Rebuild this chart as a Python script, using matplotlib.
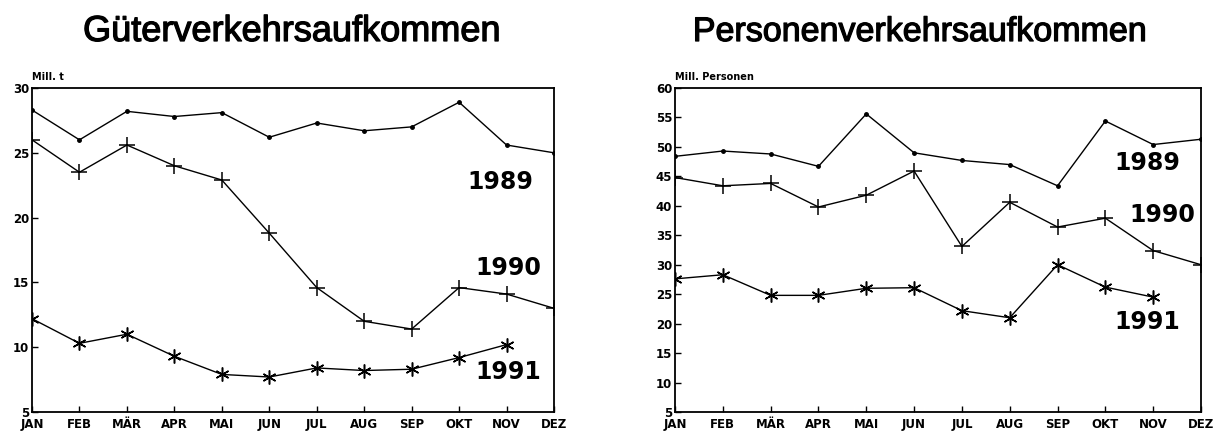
import matplotlib
matplotlib.use("Agg")
import matplotlib.pyplot as plt
import matplotlib.patheffects as pe

months = ["JAN", "FEB", "MÄR", "APR", "MAI", "JUN", "JUL", "AUG", "SEP", "OKT", "NOV", "DEZ"]

gueter_1989 = [28.3, 26.0, 28.2, 27.8, 28.1, 26.2, 27.3, 26.7, 27.0, 28.9, 25.6, 25.0]
gueter_1990 = [26.0, 23.5, 25.6, 24.0, 22.9, 18.8, 14.6, 12.0, 11.4, 14.6, 14.1, 13.0]
gueter_1991 = [12.2, 10.3, 11.0, 9.3, 7.9, 7.7, 8.4, 8.2, 8.3, 9.2, 10.2]

personen_1989 = [48.4, 49.3, 48.8, 46.7, 55.6, 49.0, 47.7, 47.0, 43.4, 54.4, 50.4, 51.3]
personen_1990 = [44.8, 43.4, 43.8, 39.8, 41.8, 45.9, 33.1, 40.6, 36.4, 37.9, 32.4, 30.0]
personen_1991 = [27.6, 28.3, 24.8, 24.8, 26.0, 26.1, 22.2, 21.0, 30.0, 26.2, 24.5]

gueter_yticks = [5, 10, 15, 20, 25, 30]
personen_yticks = [5, 10, 15, 20, 25, 30, 35, 40, 45, 50, 55, 60]

plt.rcParams['font.family'] = ['Liberation Sans', 'DejaVu Sans']

W, H = 1228, 438
fig = plt.figure(figsize=(W / 100, H / 100), dpi=100)

def px_axes(x0, x1, y0, y1):
    return fig.add_axes([x0 / W, 1 - y1 / H, (x1 - x0) / W, (y1 - y0) / H])

ax1 = px_axes(32, 554, 88, 412)
ax2 = px_axes(675, 1201, 88, 412)

ast = (6, 2, 0)
bold_font = dict(family=['DejaVu Sans'], weight='bold')

def draw(ax, s89, s90, s91, yticks, ylab, title, title_x, title_size, labels, box):
    x0, x1, y0, y1 = box
    x = list(range(len(months)))
    ax.plot(x[:len(s89)], s89, color='black', lw=1.0, marker='o', ms=2.5)
    ax.plot(x[:len(s90)], s90, color='black', lw=1.0, marker='+', ms=11, mew=1.1)
    ax.plot(x[:len(s91)], s91, color='black', lw=1.0, marker=ast, ms=10, mew=1.1)
    ax.set_xlim(0, 11)
    ax.set_ylim(yticks[0], yticks[-1])
    ax.set_xticks(x)
    ax.set_xticklabels(months, fontsize=8.5, **bold_font)
    ax.set_yticks(yticks)
    ax.set_yticklabels([str(v) for v in yticks], fontsize=8.5, **bold_font)
    ax.tick_params(direction='in', length=4, width=1, pad=2)
    ax.tick_params(axis='x', pad=4)
    for sp in ax.spines.values():
        sp.set_linewidth(1.3)
    ax.text(0.0, 1 + 8 / (y1 - y0), ylab, transform=ax.transAxes, fontsize=7,
            ha='left', va='baseline', **bold_font)
    t = fig.text(title_x / W, 1 - 41 / H, title, fontsize=title_size, ha='center',
                 va='baseline')
    t.set_path_effects([pe.withStroke(linewidth=0.9, foreground='black')])
    for (tx, ty, lbl) in labels:
        ax.text((tx - x0) / (x1 - x0), (y1 - ty) / (y1 - y0), lbl, transform=ax.transAxes,
                fontsize=17, ha='center', va='center', **bold_font)

draw(ax1, gueter_1989, gueter_1990, gueter_1991, gueter_yticks, "Mill. t",
     "Güterverkehrsaufkommen", 292, 26,
     [(500, 182, "1989"), (508, 268, "1990"), (508, 372, "1991")],
     (32, 554, 88, 412))
draw(ax2, personen_1989, personen_1990, personen_1991, personen_yticks, "Mill. Personen",
     "Personenverkehrsaufkommen", 920, 24.5,
     [(1147, 163, "1989"), (1162, 215, "1990"), (1147, 322, "1991")],
     (675, 1201, 88, 412))

fig.savefig("out.png", dpi=100)
